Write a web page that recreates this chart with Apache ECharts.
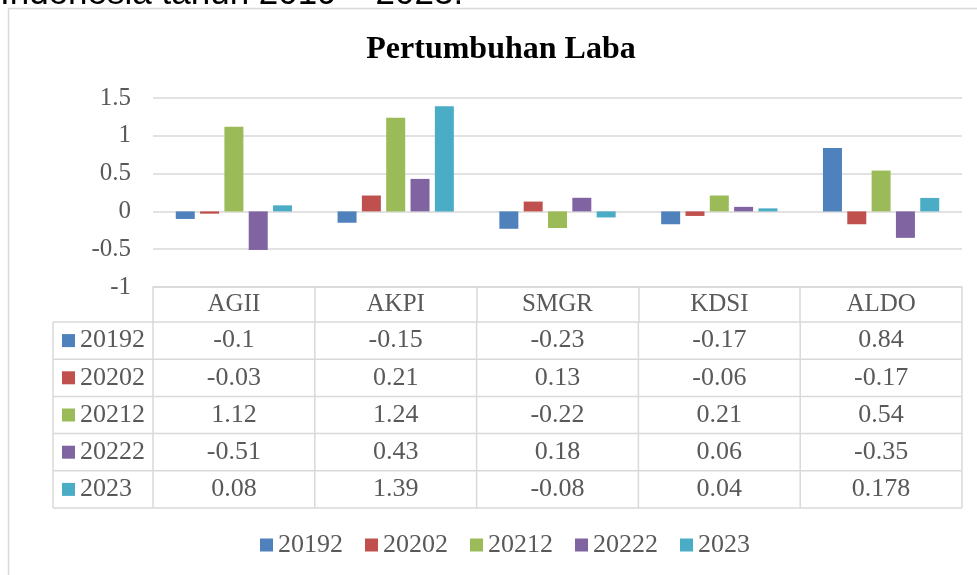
<!DOCTYPE html>
<html>
<head>
<meta charset="utf-8">
<script src="https://cdn.jsdelivr.net/npm/echarts@6/dist/echarts.min.js"></script>
<style>
  html, body { margin: 0; padding: 0; background: #fff; }
  #chart { width: 977px; height: 575px; }
</style>
</head>
<body>
<div id="chart"></div>
<script>
const categories = ['AGII', 'AKPI', 'SMGR', 'KDSI', 'ALDO'];
const seriesNames = ['20192', '20202', '20212', '20222', '2023'];
const v20192 = [-0.1, -0.15, -0.23, -0.17, 0.84];
const v20202 = [-0.03, 0.21, 0.13, -0.06, -0.17];
const v20212 = [1.12, 1.24, -0.22, 0.21, 0.54];
const v20222 = [-0.51, 0.43, 0.18, 0.06, -0.35];
const v2023 = [0.08, 1.39, -0.08, 0.04, 0.178];
const yTicks = [-1, -0.5, 0, 0.5, 1, 1.5];

const seriesValues = [v20192, v20202, v20212, v20222, v2023];
const colors = ['#4F81BD', '#C0504D', '#9BBB59', '#8064A2', '#4BACC6'];

const FONT = '"Liberation Serif", "Times New Roman", serif';
const GREY = '#595959';
const LINE = '#d9d9d9';

// layout of plot + data table
const plotLeft = 153, plotRight = 962, plotTop = 98, plotBottom = 287;
const headerH = 35, rowH = 37.2, tableLeft = 53;
const colW = (plotRight - plotLeft) / categories.length;
const rowsTop = plotBottom + headerH;

const chart = echarts.init(document.getElementById('chart'));

// data table drawn from the arrays
const table = [];
for (let r = 0; r <= seriesNames.length; r++) {
    const y = rowsTop + r * rowH;
    table.push({ type: 'line', shape: { x1: tableLeft, y1: y, x2: plotRight, y2: y },
        style: { stroke: LINE, lineWidth: 1.5 } });
}
const vx = [tableLeft];
for (let c = 0; c <= categories.length; c++) vx.push(plotLeft + c * colW);
vx.forEach((x) => {
    table.push({ type: 'line', shape: { x1: x, y1: rowsTop, x2: x, y2: rowsTop + rowH * seriesNames.length },
        style: { stroke: LINE, lineWidth: 1.5 } });
});
seriesNames.forEach((name, r) => {
    const cy = rowsTop + r * rowH + rowH / 2;
    table.push({ type: 'rect', shape: { x: 62, y: cy - 6.5, width: 13, height: 13 },
        style: { fill: colors[r] } });
    table.push({ type: 'text', x: 80, y: cy,
        style: { text: name, font: '26px ' + FONT, fill: GREY, textVerticalAlign: 'middle' } });
    seriesValues[r].forEach((v, c) => {
        table.push({ type: 'text', x: plotLeft + c * colW + colW / 2, y: cy,
            style: { text: String(v), font: '26px ' + FONT, fill: GREY,
                textAlign: 'center', textVerticalAlign: 'middle' } });
    });
});

const option = {
    animation: false,
    backgroundColor: '#fff',
    title: {
        text: 'Pertumbuhan Laba',
        left: 496,
        textAlign: 'center',
        top: 29,
        textStyle: { fontFamily: FONT, fontSize: 32, fontWeight: 'bold', color: '#000' }
    },
    legend: {
        left: 255,
        top: 527,
        icon: 'rect',
        itemWidth: 13,
        itemHeight: 13,
        itemGap: 22,
        textStyle: { fontFamily: FONT, fontSize: 26, color: GREY, padding: [0, 0, 0, 0] },
        data: seriesNames
    },
    grid: { left: plotLeft, right: 977 - plotRight, top: plotTop, bottom: 575 - plotBottom },
    xAxis: {
        type: 'category',
        data: categories,
        axisLine: { onZero: false, lineStyle: { color: LINE, width: 1.5 } },
        axisTick: { show: true, inside: false, length: headerH, lineStyle: { color: LINE, width: 1.5 } },
        axisLabel: { margin: 5, fontFamily: FONT, fontSize: 25, color: GREY }
    },
    yAxis: {
        type: 'value',
        min: yTicks[0],
        max: yTicks[yTicks.length - 1],
        interval: 0.5,
        axisLine: { show: false },
        axisTick: { show: false },
        axisLabel: { margin: 22, fontFamily: FONT, fontSize: 25, color: GREY },
        splitLine: { lineStyle: { color: LINE, width: 1.5 } }
    },
    series: seriesNames.map((name, i) => ({
        name: name,
        type: 'bar',
        data: seriesValues[i],
        barWidth: 19,
        barGap: '28%',
        itemStyle: { color: colors[i] }
    })),
    graphic: [
        { type: 'text', left: 0, top: -23,
          style: { text: 'Indonesia tahun 2019 \u2013 2023.', font: '35px "Liberation Sans", Arial, sans-serif', fill: '#000' } },
        { type: 'rect', shape: { x: 8.5, y: 8.5, width: 1000, height: 600 },
          style: { fill: 'none', stroke: LINE, lineWidth: 1.5 } }
    ].concat(table)
};

chart.setOption(option);
</script>
</body>
</html>
